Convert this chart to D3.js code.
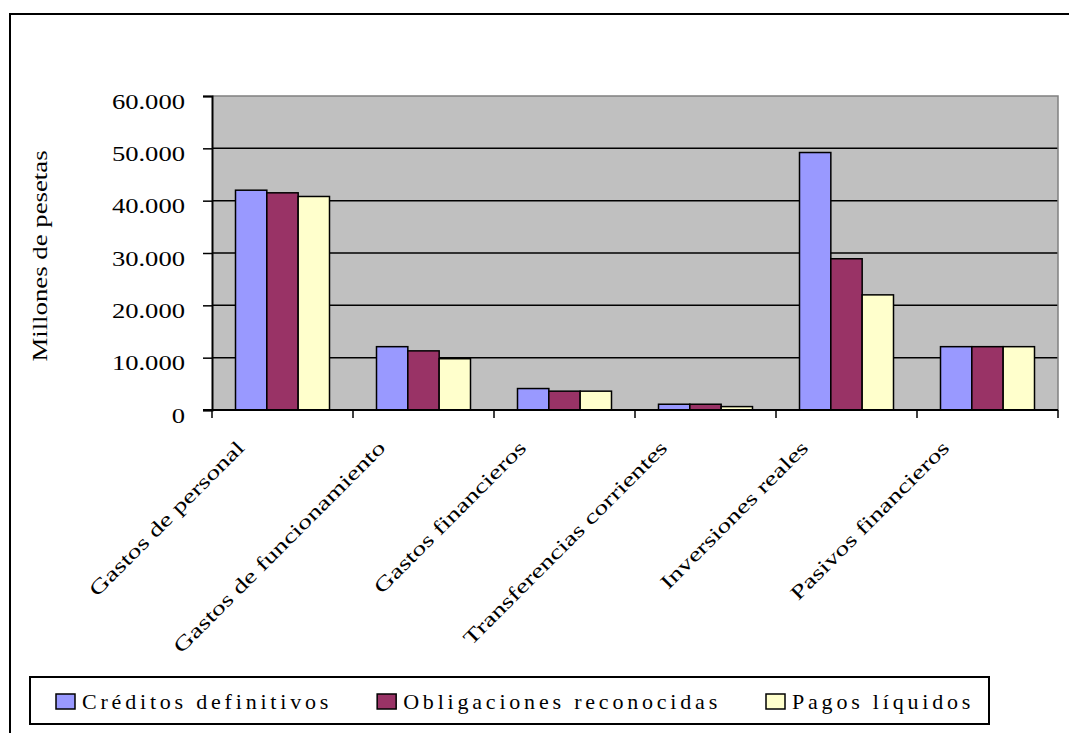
<!DOCTYPE html>
<html>
<head>
<meta charset="utf-8">
<script src="https://cdn.jsdelivr.net/npm/d3@7"></script>
<style>
  body { margin: 0; background: #fff; }
</style>
</head>
<body>
<svg id="chart" width="1069" height="733"></svg>
<script>
// chart data
const categories = ["Gastos de personal", "Gastos de funcionamiento", "Gastos financieros",
                    "Transferencias corrientes", "Inversiones reales", "Pasivos financieros"];
const seriesNames = ["Créditos definitivos", "Obligaciones reconocidas", "Pagos líquidos"];
const creditos = [42000, 12100, 4100, 1100, 49200, 12100];
const obligaciones = [41500, 11300, 3600, 1100, 28900, 12100];
const pagos = [40800, 9800, 3600, 650, 22000, 12100];
const yTicks = [0, 10000, 20000, 30000, 40000, 50000, 60000];
const colors = ["#9999FF", "#993366", "#FFFFCC"];

const FONT = "'Liberation Serif', 'Times New Roman', serif";
const seriesValues = [creditos, obligaciones, pagos];
const svg = d3.select("#chart");

// outer chart frame
svg.append("rect")
    .attr("x", 10).attr("y", 14)
    .attr("width", 1200).attr("height", 900)
    .attr("fill", "#fff").attr("stroke", "#000").attr("stroke-width", 2);

const plot = { left: 212, right: 1058, top: 96, bottom: 410 };

const x0 = d3.scaleBand().domain(categories).range([plot.left, plot.right]);
const x1 = d3.scaleBand().domain(seriesNames).range([0, x0.bandwidth()])
    .paddingInner(0).paddingOuter(0.75);
const y = d3.scaleLinear().domain([0, 60000]).range([plot.bottom, plot.top]);

// plot background
svg.append("rect")
    .attr("x", plot.left).attr("y", plot.top)
    .attr("width", plot.right - plot.left).attr("height", plot.bottom - plot.top)
    .attr("fill", "#C0C0C0");

// gridlines
svg.append("g")
    .selectAll("line")
    .data(yTicks.slice(1, -1))
    .enter().append("line")
      .attr("x1", plot.left).attr("x2", plot.right)
      .attr("y1", d => y(d)).attr("y2", d => y(d))
      .attr("stroke", "#000").attr("stroke-width", 1.5);

// plot border (top and right are grey)
svg.append("path")
    .attr("d", `M${plot.left},${plot.top}H${plot.right}V${plot.bottom}`)
    .attr("fill", "none").attr("stroke", "#808080").attr("stroke-width", 1.5);

// bars
const groups = svg.append("g")
    .selectAll("g")
    .data(categories)
    .enter().append("g")
      .attr("transform", d => `translate(${x0(d)},0)`);

groups.selectAll("rect")
    .data((c, i) => seriesNames.map((s, k) => ({ s, k, v: seriesValues[k][i] })))
    .enter().append("rect")
      .attr("x", d => x1(d.s))
      .attr("y", d => y(d.v))
      .attr("width", x1.bandwidth())
      .attr("height", d => plot.bottom - y(d.v))
      .attr("fill", d => colors[d.k])
      .attr("stroke", "#000")
      .attr("stroke-width", 1.5);

// y axis (labels are drawn wide, as in the original)
const yAxis = svg.append("g")
    .attr("transform", `translate(${plot.left},0)`)
    .call(d3.axisLeft(y).tickValues(yTicks).tickSize(9).tickPadding(0)
        .tickFormat(d => d3.format(",")(d).replace(/,/g, ".")));
yAxis.attr("font-family", null).attr("font-size", null);
yAxis.select(".domain").attr("stroke", "#000").attr("stroke-width", 2);
yAxis.selectAll(".tick line").attr("stroke", "#000").attr("stroke-width", 1.5);
yAxis.selectAll(".tick text")
    .attr("x", null)
    .attr("dy", null)
    .attr("transform", "translate(-27,12) scale(1.33,1)")
    .style("font-family", FONT)
    .style("font-size", "20px");

// x axis
const xAxis = svg.append("g")
    .attr("transform", `translate(0,${plot.bottom})`);
xAxis.append("line")
    .attr("x1", plot.left - 9).attr("x2", plot.right)
    .attr("stroke", "#000").attr("stroke-width", 2);
xAxis.selectAll(".xt")
    .data(categories.map(c => x0(c)).concat([plot.right]))
    .enter().append("line")
      .attr("class", "xt")
      .attr("x1", d => d).attr("x2", d => d)
      .attr("y1", 0).attr("y2", 8)
      .attr("stroke", "#000").attr("stroke-width", 1.5);

svg.append("g")
    .selectAll("text")
    .data(categories)
    .enter().append("text")
      .attr("transform", d => `translate(${x0(d) + x0.bandwidth() / 2 - 37},${plot.bottom + 39}) rotate(-45) scale(1.39,1)`)
      .attr("text-anchor", "end")
      .style("font-family", FONT)
      .style("font-size", "20px")
      .text(d => d);

// y axis title
svg.append("text")
    .attr("transform", `translate(47,${(plot.top + plot.bottom) / 2 + 3}) rotate(-90) scale(1.34,1)`)
    .attr("text-anchor", "middle")
    .style("font-family", FONT)
    .style("font-size", "20px")
    .text("Millones de pesetas");

// legend
const legend = svg.append("g");
legend.append("rect")
    .attr("x", 30).attr("y", 677)
    .attr("width", 959).attr("height", 47)
    .attr("fill", "#fff").attr("stroke", "#000").attr("stroke-width", 2);

let lx = 56;
seriesNames.forEach((name, k) => {
    legend.append("rect")
        .attr("x", lx).attr("y", 694)
        .attr("width", 19).attr("height", 15)
        .attr("fill", colors[k]).attr("stroke", "#000").attr("stroke-width", 1.5);
    const t = legend.append("text")
        .attr("x", lx + 26).attr("y", 709)
        .style("font-family", FONT)
        .style("font-size", "22px")
        .style("letter-spacing", "3.8px")
        .text(name);
    lx += 26 + t.node().getComputedTextLength() + 45;
});
</script>
</body>
</html>
